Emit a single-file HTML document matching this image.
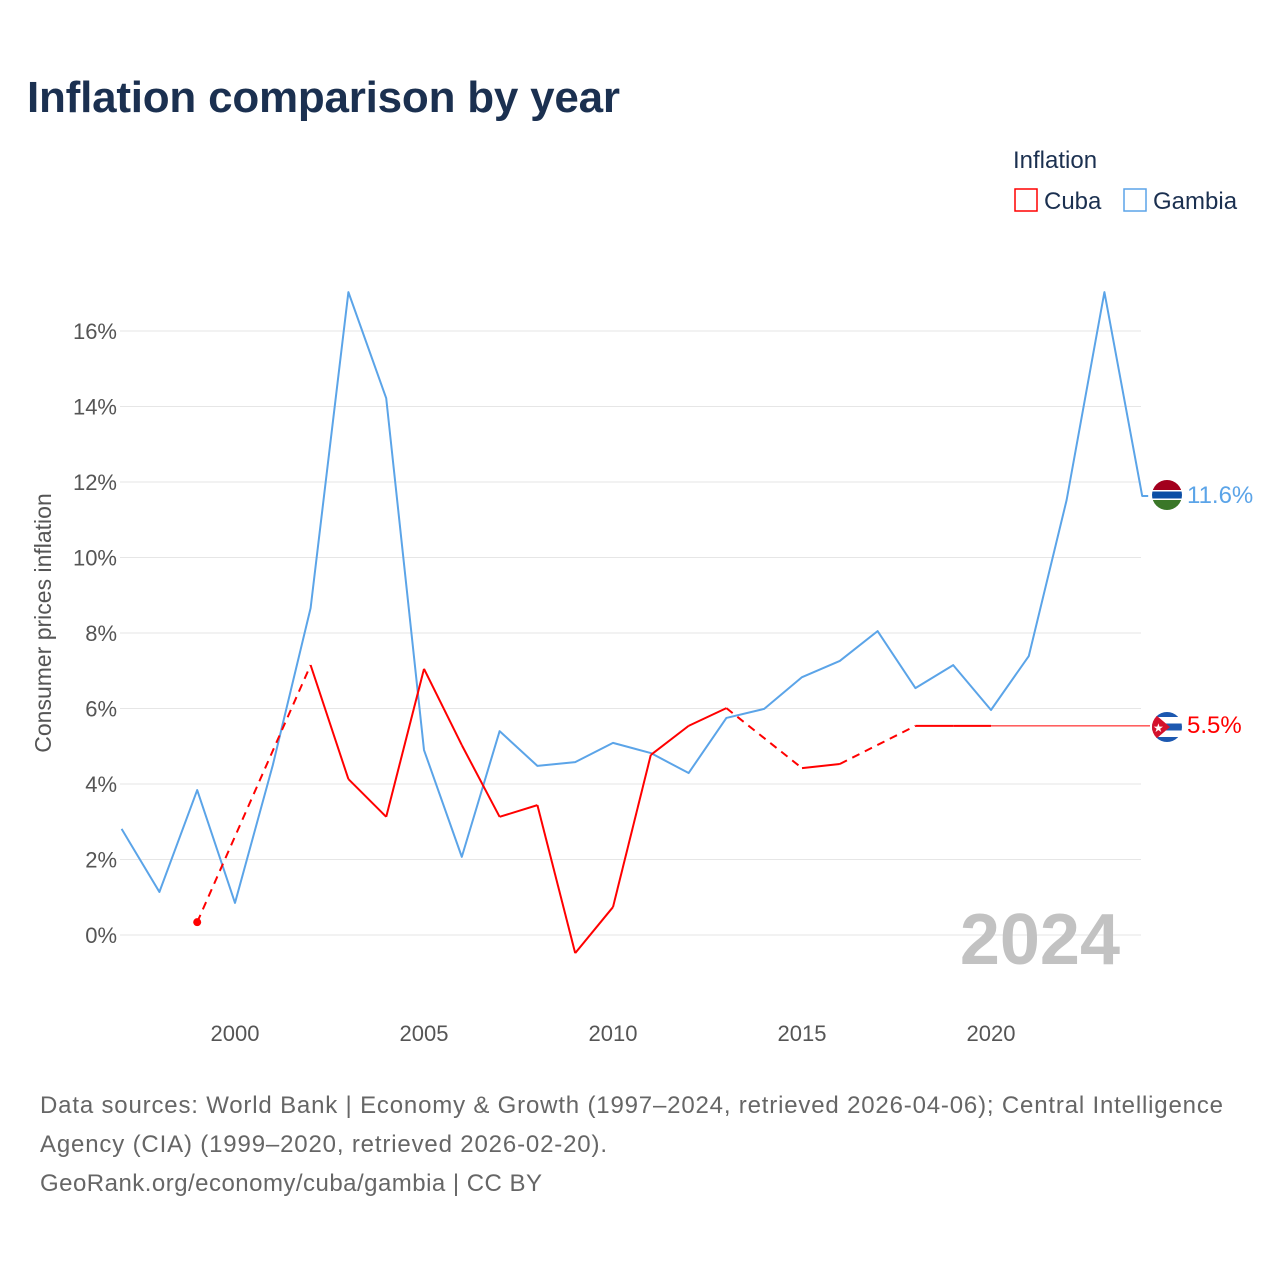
<!DOCTYPE html>
<html><head><meta charset="utf-8">
<style>
body{margin:0;background:#fff;font-family:"Liberation Sans",sans-serif;}
#wrap{position:relative;width:1280px;height:1280px;overflow:hidden;background:#fff}
</style></head>
<body>
<div id="wrap">
<svg id="chart" width="1280" height="1280" xmlns="http://www.w3.org/2000/svg">
<text x="27" y="112" font-size="44" font-weight="bold" fill="#1b3050" textLength="593">Inflation comparison by year</text>
<text x="1013" y="168" font-size="24" fill="#1b3050">Inflation</text>
<g>
<rect x="1015" y="189" width="22" height="22" fill="none" stroke="#ff0000" stroke-width="1.5"/>
<text x="1044" y="209" font-size="24" fill="#1b3050">Cuba</text></g>
<g>
<rect x="1124" y="189" width="22" height="22" fill="none" stroke="#5ba4e8" stroke-width="1.5"/>
<text x="1153" y="209" font-size="24" fill="#1b3050">Gambia</text></g>
<g id="grid"></g>
<g id="series"></g>
<text x="1120" y="964" text-anchor="end" font-size="72" font-weight="bold" fill="#c2c2c2">2024</text>
<text transform="translate(51,623) rotate(-90)" text-anchor="middle" font-size="23" fill="#555">Consumer prices inflation</text>
<g>
<clipPath id="cg"><circle cx="1167" cy="495" r="15"/></clipPath>
<g clip-path="url(#cg)"><rect x="1150" y="478" width="34" height="12" fill="#a3001e"/><rect x="1150" y="490" width="34" height="10" fill="#fff"/><rect x="1150" y="491.5" width="34" height="7" fill="#0c4ea5"/><rect x="1150" y="500" width="34" height="12" fill="#3a7728"/></g></g>
<g>
<clipPath id="cc"><circle cx="1167" cy="727" r="15"/></clipPath>
<g clip-path="url(#cc)"><rect x="1150" y="710" width="34" height="34" fill="#fff"/><rect x="1150" y="710" width="34" height="7" fill="#1c58b0"/><rect x="1150" y="723.5" width="34" height="7" fill="#1c58b0"/><rect x="1150" y="737" width="34" height="7" fill="#1c58b0"/><polygon points="1150,710 1170,727 1150,744" fill="#d4112c"/><text x="1153" y="732" font-size="12" fill="#fff">★</text></g></g>
<text x="1187" y="503" font-size="24" fill="#5ba4e8">11.6%</text>
<text x="1187" y="733" font-size="24" fill="#ff0000">5.5%</text>
<text x="40" y="1113" font-size="24" fill="#666" textLength="1183">Data sources: World Bank | Economy &amp; Growth (1997–2024, retrieved 2026-04-06); Central Intelligence</text>
<text x="40" y="1152" font-size="24" fill="#666" textLength="567">Agency (CIA) (1999–2020, retrieved 2026-02-20).</text>
<text x="40" y="1191" font-size="24" fill="#666" textLength="502">GeoRank.org/economy/cuba/gambia | CC BY</text>
</svg>
</div>
<script>
const years=[1997,1998,1999,2000,2001,2002,2003,2004,2005,2006,2007,2008,2009,2010,2011,2012,2013,2014,2015,2016,2017,2018,2019,2020,2021,2022,2023,2024];
const gambia=[2.81,1.14,3.84,0.85,4.5,8.66,17.03,14.22,4.9,2.07,5.4,4.48,4.58,5.09,4.82,4.29,5.75,5.99,6.83,7.26,8.05,6.54,7.15,5.96,7.39,11.52,17.03,11.63];
const cuba=[null,null,0.34,null,null,7.15,4.13,3.13,7.05,5.03,3.13,3.44,-0.48,0.74,4.77,5.54,6.01,null,4.42,4.53,null,5.54,5.54,5.54,null,null,null,null];
const yTicks=[0,2,4,6,8,10,12,14,16];
const xTicks=[2000,2005,2010,2015,2020];
const NS="http://www.w3.org/2000/svg";
const X=y=>121.6+(y-1997)*37.8;
const Y=v=>935-v*37.75;
const grid=document.getElementById('grid'),ser=document.getElementById('series');
function mk(t,a,p){const e=document.createElementNS(NS,t);for(const k in a)e.setAttribute(k,a[k]);p.appendChild(e);return e;}
yTicks.forEach(t=>{
 const l=mk('line',{x1:120,x2:1141,y1:Y(t),y2:Y(t),stroke:'#e6e6e6','stroke-width':1},grid);
 
 
 const tx=mk('text',{x:117,y:Y(t)+8,'text-anchor':'end','font-size':22,fill:'#555'},grid);
 tx.textContent=t+'%';
 
 
});
xTicks.forEach(t=>{
 const tx=mk('text',{x:X(t),y:1041,'text-anchor':'middle','font-size':22,fill:'#555'},grid);
 tx.textContent=t;
 
 
});
const gp=years.map((y,i)=>X(y)+','+Y(gambia[i])).join(' ');
const gl=mk('polyline',{points:gp+' '+(X(2024)+6)+','+Y(gambia[27]),fill:'none',stroke:'#5ba4e8','stroke-width':2,'stroke-linejoin':'round'},ser);


let prev=-1;
cuba.forEach((v,i)=>{
 if(v===null)return;
 if(prev>=0){
  const dashed=i-prev>1;
  const s=mk('line',{x1:X(years[prev]),y1:Y(cuba[prev]),x2:X(years[i]),y2:Y(v),stroke:'#ff0000','stroke-width':2,'stroke-dasharray':dashed?'8,6':'none'},ser);
  
  
 }
 prev=i;
});
const first=cuba.findIndex(v=>v!==null);
const d=mk('circle',{cx:X(years[first]),cy:Y(cuba[first]),r:4,fill:'#ff0000'},ser);


const ext=mk('line',{x1:X(years[prev]),y1:Y(cuba[prev]),x2:1150,y2:Y(cuba[prev]),stroke:'#ff0000','stroke-width':1},ser);


</script>
</body></html>
